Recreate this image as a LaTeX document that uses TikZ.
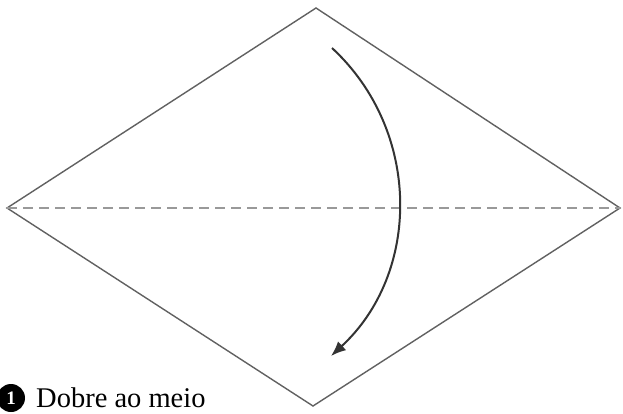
\documentclass[tikz,border=0pt]{standalone}
\usepackage{fontspec}
\setmainfont{Liberation Serif}
\usetikzlibrary{arrows.meta}
\begin{document}
\begin{tikzpicture}[x=1pt,y=-1pt,
  edge/.style={draw=black!62, line width=1.4pt, line join=miter},
  fold/.style={draw=black!40, line width=1.2pt, dash pattern=on 10pt off 6pt},
  foldarrow/.style={draw=black!80, line width=2pt, -{Latex[length=15pt,width=12pt]}},
  stepnum/.style={circle, fill=black, text=white, inner sep=0pt, minimum size=28pt, font=\bfseries\fontsize{19}{19}\selectfont},
  caption/.style={anchor=base west, inner sep=0pt, font=\fontsize{28.5}{30}\selectfont}]
\useasboundingbox (0,0) rectangle (623,414);
\fill[white] (0,0) rectangle (623,414);
\coordinate (T) at (316,8);
\coordinate (R) at (620,208);
\coordinate (B) at (313,406);
\coordinate (L) at (7,208);
\coordinate (S) at (332,48);
\coordinate (E) at (331,356);
\draw[edge] (T) -- (R) -- (B) -- (L) -- cycle;
\draw[fold] (L) -- (R);
\draw[foldarrow] (S) .. controls (421.7,131) and (421,273) .. (E);
\node[stepnum] (n) at (11,398) {1};
\node[caption] (c) at (36,407) {Dobre ao meio};
\end{tikzpicture}
\end{document}
